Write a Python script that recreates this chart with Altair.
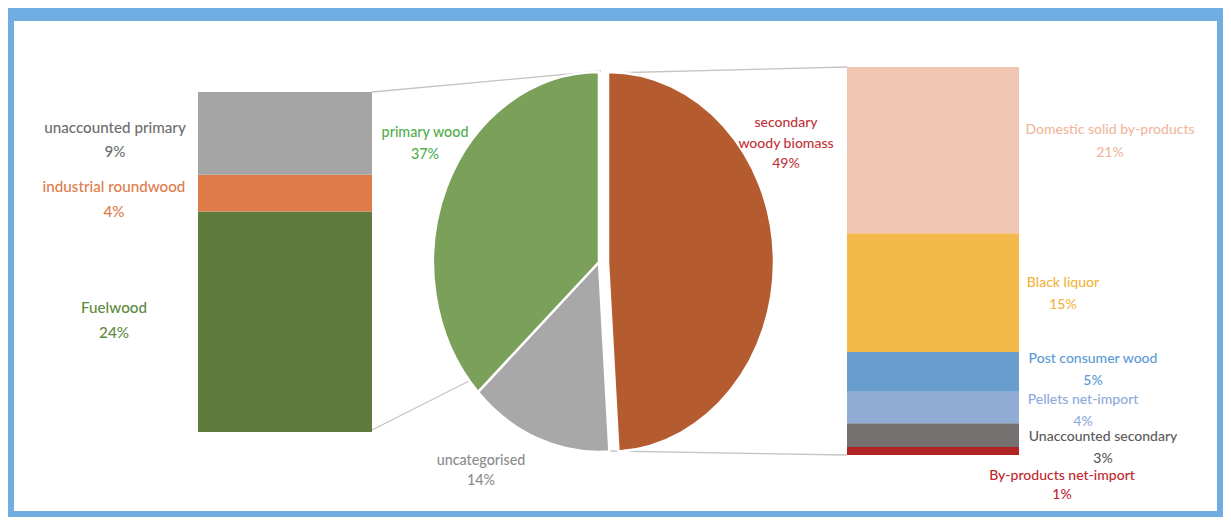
import altair as alt
import pandas as pd

# ---------------- data ----------------
left_names = ["Fuelwood", "industrial roundwood", "unaccounted primary"]
left_values = [24, 4, 9]

pie_names = ["secondary woody biomass", "uncategorised", "primary wood"]
pie_values = [49, 14, 37]

right_names = ["By-products net-import", "Unaccounted secondary", "Pellets net-import",
               "Post consumer wood", "Black liquor", "Domestic solid by-products"]
right_values = [1, 3, 4, 5, 15, 21]

# ---------------- styles ----------------
left_colors = ["#5E7B3C", "#DF7C4A", "#A5A5A5"]
pie_colors = ["#B55B30", "#A8A8A8", "#7BA05A"]
right_colors = ["#B22424", "#767171", "#91ADD6", "#689DCD", "#F4B94B", "#F0C6B2"]

left_label_colors = ["#5E8A3E", "#E07B4A", "#6E6E6E"]
pie_label_colors = ["#C0343C", "#8C8C8C", "#52AD4E"]
right_label_colors = ["#C0282D", "#5A5A5A", "#8FAADC", "#5B9BD5", "#F2B33D", "#F0B89E"]

FRAME_BLUE = "#6FADE2"
FONT = "Lato"

# ---------------- layout (pixels) ----------------
W, H = 1215, 509
left_bar_x = (190, 364)
left_bar_range = [424, 84]
right_bar_x = (839, 1011)
right_bar_range = [447, 59]
pie_center_main = (591, 254)
pie_center_explode = (600, 254)
pie_ry = 190
pie_rx_ratio = 0.874

# label anchors: (center x, first line y, line step, font size)
left_label_pos = [(106, 300, 25, 15.2), (106, 179, 25, 15.2), (107, 120, 24, 15.2)]
pie_label_pos = [(778, 115, 20.5, 14), (473, 453, 20, 14.3), (417, 125, 22, 14.3)]
right_label_pos = [(1054, 468, 19, 14), (1095, 429, 22, 14), (1075, 392, 22, 14),
                   (1085, 351, 22, 14), (1055, 275, 22, 14), (1102, 122, 23, 14)]
wraps = {"secondary woody biomass": ["secondary", "woody biomass"]}

connectors = [((364, 84), (593, 63)), ((364, 422), (467, 370)),
              ((600, 65), (839, 59)), ((602, 443), (839, 447))]

# ---------------- tables ----------------
left_df = pd.DataFrame({"name": left_names, "value": left_values,
                        "order": list(range(len(left_names))), "color": left_colors})
right_df = pd.DataFrame({"name": right_names, "value": right_values,
                         "order": list(range(len(right_names))), "color": right_colors})
pie_df = pd.DataFrame({"name": pie_names, "value": pie_values,
                       "order": list(range(len(pie_names))), "color": pie_colors})

rows = []
for names, values, cols, pos in [
    (left_names, left_values, left_label_colors, left_label_pos),
    (pie_names, pie_values, pie_label_colors, pie_label_pos),
    (right_names, right_values, right_label_colors, right_label_pos),
]:
    for n, v, c, (px, py, step, fs) in zip(names, values, cols, pos):
        lines = wraps.get(n, [n]) + [f"{v}%"]
        for i, t in enumerate(lines):
            rows.append({"text": t, "x": px, "y": py + i * step, "color": c, "fs": fs})
label_df = pd.DataFrame(rows)

conn_df = pd.DataFrame([{"x1": a[0], "y1": a[1], "x2": b[0], "y2": b[1]} for a, b in connectors])

# ---------------- layers ----------------
frame = alt.Chart(pd.DataFrame({"k": [0]})).mark_rect(color="white").encode(
    x=alt.value(6), x2=alt.value(1209), y=alt.value(13), y2=alt.value(503)
)


def stacked_bar(df, xr, yrange, total):
    return (
        alt.Chart(df)
        .transform_window(cum="sum(value)", sort=[alt.SortField("order")])
        .transform_calculate(y0="datum.cum - datum.value")
        .mark_rect()
        .encode(
            x=alt.value(xr[0]),
            x2=alt.value(xr[1]),
            y=alt.Y("y0:Q", scale=alt.Scale(domain=[0, total], range=yrange, nice=False, zero=False), axis=None),
            y2="cum:Q",
            color=alt.Color("color:N", scale=None),
        )
    )


left_bar = stacked_bar(left_df, left_bar_x, left_bar_range, sum(left_values))
right_bar = stacked_bar(right_df, right_bar_x, right_bar_range, sum(right_values))

RX = pie_rx_ratio
path_expr = (
    f"'M0,0L' + (round({RX}*sin(datum.a0)*10000)/10000) + ',' + (round(-cos(datum.a0)*10000)/10000)"
    f" + 'A{RX},1,0,' + (datum.a1 - datum.a0 > PI ? '1' : '0') + ',1,'"
    f" + (round({RX}*sin(datum.a1)*10000)/10000) + ',' + (round(-cos(datum.a1)*10000)/10000) + 'Z'"
)

pie_base = (
    alt.Chart(pie_df)
    .transform_joinaggregate(total="sum(value)")
    .transform_window(cum="sum(value)", sort=[alt.SortField("order")])
    .transform_calculate(
        a0="(datum.cum - datum.value) / datum.total * 2 * PI",
        a1="datum.cum / datum.total * 2 * PI",
    )
    .transform_calculate(path=path_expr)
)

pie_size = (2 * pie_ry) ** 2


def pie_layer(filt, center):
    return (
        pie_base.transform_filter(filt)
        .mark_point(filled=True, opacity=1, stroke="white", strokeWidth=2.5)
        .encode(
            x=alt.value(center[0]),
            y=alt.value(center[1]),
            shape=alt.Shape("path:N", scale=None),
            color=alt.Color("color:N", scale=None),
            size=alt.value(pie_size),
        )
    )


pie_main = pie_layer("datum.order > 0", pie_center_main)
pie_explode = pie_layer("datum.order == 0", pie_center_explode)

conn = alt.Chart(conn_df).mark_rule(color="#C4C4C4", strokeWidth=1.3).encode(
    x=alt.X("x1:Q", scale=None), y=alt.Y("y1:Q", scale=None),
    x2="x2:Q", y2="y2:Q",
)

labels = alt.Chart(label_df).mark_text(
    font=FONT, fontWeight=500, align="center", baseline="middle"
).encode(
    x=alt.X("x:Q", scale=None),
    y=alt.Y("y:Q", scale=None),
    text="text:N",
    size=alt.Size("fs:Q", scale=None),
    color=alt.Color("color:N", scale=None),
)

chart = (
    alt.layer(frame, conn, left_bar, right_bar, pie_main, pie_explode, labels)
    .resolve_scale(x="independent", y="independent")
    .properties(
        width=W, height=H, background=FRAME_BLUE, padding=0,
        autosize=alt.AutoSizeParams(type="fit", contains="padding"),
    )
    .configure_view(stroke=None)
)

chart.save("out.html", embed_options={"renderer": "svg", "actions": False})
